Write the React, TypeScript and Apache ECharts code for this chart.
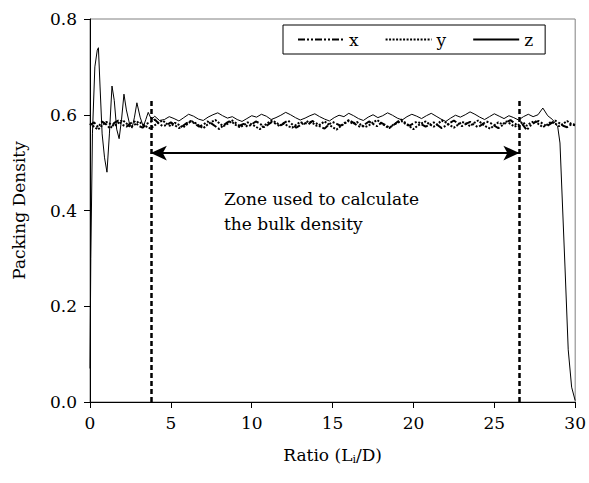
import React, { useEffect, useRef } from "react";
import * as echarts from "echarts";

const STEP = 0.25;
const xValues = [
  0.578,0.584,0.574,0.586,0.580,0.571,0.583,0.588,0.579,0.575,
  0.582,0.586,0.577,0.573,0.581,0.585,0.590,0.582,0.576,0.579,
  0.584,0.578,0.572,0.577,0.583,0.587,0.581,0.575,0.579,0.586,
  0.582,0.576,0.570,0.578,0.584,0.589,0.583,0.577,0.581,0.575,
  0.580,0.586,0.582,0.574,0.579,0.585,0.581,0.576,0.583,0.588,
  0.580,0.573,0.578,0.584,0.580,0.587,0.582,0.575,0.571,0.579,
  0.585,0.581,0.577,0.583,0.589,0.584,0.578,0.574,0.580,0.586,
  0.581,0.576,0.583,0.579,0.573,0.578,0.585,0.590,0.583,0.577,
  0.582,0.586,0.580,0.575,0.579,0.584,0.578,0.572,0.577,0.583,
  0.588,0.582,0.576,0.581,0.585,0.579,0.574,0.580,0.586,0.583,
  0.577,0.572,0.578,0.584,0.589,0.582,0.576,0.580,0.568,0.578,
  0.584,0.587,0.581,0.576,0.582,0.588,0.583,0.577,0.574,0.580,
  0.578,
];
const yValues = [
  0.582,0.575,0.569,0.578,0.585,0.581,0.576,0.583,0.589,0.582,
  0.574,0.579,0.586,0.580,0.575,0.571,0.578,0.584,0.588,0.581,
  0.576,0.583,0.579,0.573,0.580,0.587,0.583,0.577,0.572,0.579,
  0.585,0.589,0.582,0.576,0.581,0.586,0.579,0.574,0.578,0.584,
  0.580,0.575,0.570,0.577,0.583,0.588,0.584,0.578,0.582,0.576,
  0.573,0.579,0.585,0.581,0.587,0.583,0.577,0.580,0.586,0.580,
  0.574,0.569,0.576,0.582,0.587,0.581,0.585,0.579,0.574,0.578,
  0.584,0.589,0.583,0.577,0.572,0.579,0.583,0.587,0.581,0.576,
  0.570,0.577,0.582,0.586,0.580,0.575,0.581,0.588,0.584,0.578,
  0.573,0.579,0.585,0.582,0.576,0.583,0.588,0.581,0.575,0.571,
  0.578,0.584,0.580,0.586,0.581,0.575,0.579,0.585,0.577,0.583,
  0.587,0.580,0.574,0.579,0.585,0.582,0.576,0.581,0.587,0.581,
  0.579,
];
const zX = [
  0, 0.05, 0.15, 0.3, 0.45, 0.52, 0.62, 0.75, 0.9, 1.05, 1.2, 1.36, 1.5, 1.65, 1.8,
  1.95, 2.1, 2.25, 2.45, 2.6, 2.75, 2.9, 3.1, 3.3, 3.45, 3.6, 3.8, 4.0, 4.3,
  4.6, 4.9, 5.2, 5.5, 5.8, 6.1, 6.4, 6.7, 7.0, 7.3, 7.6, 7.9, 8.2, 8.5, 8.8, 9.1,
  9.4, 9.7, 10.0, 10.3, 10.6, 10.9, 11.2, 11.5, 11.8, 12.1, 12.4, 12.7, 13.0, 13.3,
  13.6, 13.9, 14.2, 14.5, 14.8, 15.1, 15.4, 15.7, 16.0, 16.3, 16.6, 16.9, 17.2, 17.5,
  17.8, 18.1, 18.4, 18.7, 19.0, 19.3, 19.6, 19.9, 20.2, 20.5, 20.8, 21.1, 21.4, 21.7,
  22.0, 22.3, 22.6, 22.9, 23.2, 23.5, 23.8, 24.1, 24.4, 24.7, 25.0, 25.3, 25.6, 25.9,
  26.2, 26.5, 26.8, 27.1, 27.4, 27.7,
  28.0, 28.3, 28.6, 28.92, 29.06, 29.37, 29.57, 29.78, 30.0,
];
const zY = [
  0.07, 0.30, 0.56, 0.70, 0.735, 0.74, 0.66, 0.56, 0.51, 0.48, 0.56, 0.66, 0.63, 0.57, 0.55,
  0.59, 0.643, 0.61, 0.58, 0.572, 0.595, 0.625, 0.595, 0.575, 0.590, 0.605, 0.590, 0.597, 0.588,
  0.590,0.596,0.592,0.587,0.594,0.601,0.597,0.591,0.588,0.595,
  0.600,0.604,0.598,0.593,0.596,0.590,0.586,0.592,0.598,0.595,
  0.601,0.597,0.590,0.594,0.599,0.605,0.600,0.594,0.589,0.593,
  0.598,0.602,0.596,0.591,0.587,0.594,0.599,0.596,0.603,0.598,
  0.592,0.588,0.595,0.600,0.594,0.598,0.604,0.599,0.593,0.589,
  0.596,0.601,0.597,0.592,0.598,0.603,0.597,0.591,0.586,0.593,
  0.599,0.595,0.600,0.606,0.601,0.595,0.590,0.596,0.602,0.597,
  0.592,0.598,0.594,0.589,0.596,0.601,0.596,0.600,
  0.614, 0.598, 0.590, 0.575, 0.541, 0.282, 0.109, 0.031, 0.003,
];
const zoneStart = 3.76;
const zoneEnd = 26.55;
const zoneTop = 0.63;
const arrowY = 0.52;
const yTicks = [0, 0.2, 0.4, 0.6, 0.8];
const xTicks = [0, 5, 10, 15, 20, 25, 30];

const FONT = "DejaVu Serif";

export default function App() {
  const ref = useRef<HTMLDivElement>(null);
  useEffect(() => {
    if (!ref.current) return;
    const chart = echarts.init(ref.current, undefined, { renderer: "svg" });
    const xData = xValues.map((v, i) => [i * STEP, v]);
    const yData = yValues.map((v, i) => [i * STEP, v]);
    const zData = zX.map((x, i) => [x, zY[i]]);
    chart.setOption({
      animation: false,
      backgroundColor: "#fff",
      textStyle: { fontFamily: FONT, color: "#000" },
      grid: {
        left: 90, top: 19, right: 12, bottom: 81,
        show: true, borderColor: "#808080", borderWidth: 1,
      },
      legend: {
        data: ["x", "y", "z"],
        left: 283, top: 25,
        itemWidth: 46, itemHeight: 10, itemGap: 26,
        padding: [6, 12, 6, 14],
        borderColor: "#000", borderWidth: 1,
        backgroundColor: "#fff",
        itemStyle: { opacity: 0 },
        textStyle: { fontFamily: FONT, fontSize: 17, color: "#000", padding: [0, 0, 3, 0] },
      },
      xAxis: {
        type: "value", min: xTicks[0], max: xTicks[xTicks.length - 1], interval: 5,
        name: "Ratio (L{sub|i}/D)", nameLocation: "middle", nameGap: 43,
        nameTextStyle: {
          fontFamily: FONT, fontSize: 17, color: "#000",
          rich: { sub: { fontFamily: FONT, fontSize: 11, color: "#000", padding: [9, 0, 0, 0] } },
        },
        axisLine: { lineStyle: { color: "#000", width: 1 } },
        axisTick: { show: true, inside: false, length: 6, lineStyle: { color: "#000" } },
        axisLabel: { fontFamily: FONT, fontSize: 17, color: "#000", margin: 12 },
        splitLine: { show: false },
      },
      yAxis: {
        type: "value", min: yTicks[0], max: yTicks[yTicks.length - 1], interval: 0.2,
        name: "Packing Density", nameLocation: "middle", nameGap: 63,
        nameTextStyle: { fontFamily: FONT, fontSize: 17, color: "#000" },
        axisLine: { show: true, lineStyle: { color: "#000", width: 1 } },
        axisTick: { show: true, inside: false, length: 6, lineStyle: { color: "#000" } },
        axisLabel: {
          fontFamily: FONT, fontSize: 17, color: "#000", margin: 13,
          formatter: (v: number) => v.toFixed(1),
        },
        splitLine: { show: false },
      },
      series: [
        {
          name: "x", type: "line", data: xData, symbol: "none",
          lineStyle: { color: "#000", width: 2, type: [7, 2, 2, 2, 2, 2] },
          itemStyle: { color: "#000" }, z: 3,
        },
        {
          name: "y", type: "line", data: yData, symbol: "none",
          lineStyle: { color: "#000", width: 2, type: [2, 1.5] },
          itemStyle: { color: "#000" }, z: 3,
        },
        {
          name: "z", type: "line", data: zData, symbol: "none",
          lineStyle: { color: "#000", width: 1, type: "solid" },
          itemStyle: { color: "#000" }, z: 2,
        },
        {
          name: "zone", type: "line", data: [], symbol: "none",
          markLine: {
            silent: true, animation: false,
            label: { show: false },
            data: [
              [
                { coord: [zoneStart, 0], symbol: "none", lineStyle: { type: [5, 3], width: 2.5, color: "#000" } },
                { coord: [zoneStart, zoneTop], symbol: "none" },
              ],
              [
                { coord: [zoneEnd, 0], symbol: "none", lineStyle: { type: [5, 3], width: 2.5, color: "#000" } },
                { coord: [zoneEnd, zoneTop], symbol: "none" },
              ],
              [
                { coord: [zoneStart, arrowY], symbol: "arrow", symbolSize: [11, 16], lineStyle: { type: "solid", width: 2, color: "#000" } },
                { coord: [zoneEnd, arrowY], symbol: "arrow", symbolSize: [11, 16] },
              ],
            ],
          },
        },
      ],
      graphic: [
        {
          type: "text", left: 224, top: 186,
          style: {
            text: "Zone used to calculate\nthe bulk density",
            font: `17px "${FONT}"`, fill: "#000", lineHeight: 25,
          },
        },
      ],
    });
    return () => chart.dispose();
  }, []);
  return (
    <div
      ref={ref}
      style={{ position: "fixed", left: 0, top: 0, width: 589, height: 483 }}
    />
  );
}
